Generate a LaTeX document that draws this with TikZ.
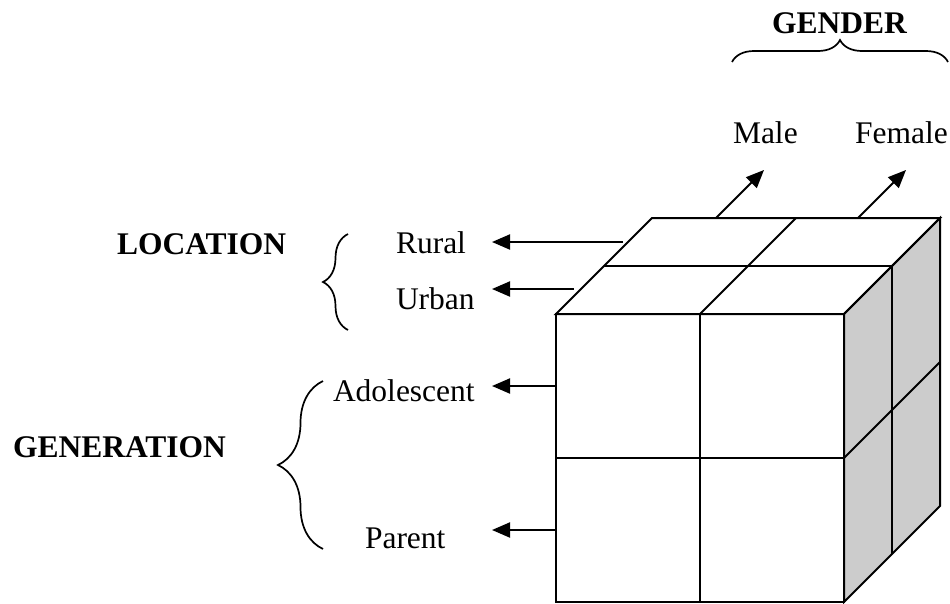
\documentclass[tikz,border=0pt]{standalone}
\usepackage{fontspec}
\setmainfont{Liberation Serif}
\usetikzlibrary{arrows.meta,decorations.pathreplacing}
\begin{document}
\begin{tikzpicture}[x=1pt,y=-1pt,
  every node/.style={inner sep=0pt,outer sep=0pt,anchor=base west,font=\fontsize{31.5}{36}\selectfont},
  boldlab/.style={font=\fontsize{31.5}{36}\selectfont\bfseries},
  cubeline/.style={line width=2pt,line join=miter},
  arr/.style={line width=2pt,-{Triangle[length=18pt,width=15pt]}},
  brc/.style={line width=1.7pt,decorate,decoration={brace,amplitude=#1}}]
\useasboundingbox (0,0) rectangle (950,603);
% cube: right face
\filldraw[cubeline,fill={rgb,255:red,204;green,204;blue,204}] (844,314) -- (940,218) -- (940,506) -- (844,602) -- cycle;
\draw[cubeline] (892,266) -- (892,554);
\draw[cubeline] (844,458) -- (940,362);
% top face
\draw[cubeline] (556,314) -- (652,218) -- (940,218) -- (844,314) -- cycle;
\draw[cubeline] (604,266) -- (892,266);
\draw[cubeline] (700,314) -- (796,218);
% front face
\draw[cubeline] (556,314) rectangle (844,601.5);
\draw[cubeline] (700,314) -- (700,601.5);
\draw[cubeline] (556,458) -- (844,458);
% labels
\node[boldlab] (gender) at (772,33) {GENDER};
\node (male) at (733,143) {Male};
\node (female) at (855,143) {Female};
\node[boldlab] (location) at (117,254) {LOCATION};
\node (rural) at (396,253) {Rural};
\node (urban) at (396,309) {Urban};
\node[boldlab] (generation) at (13,457) {GENERATION};
\node (adol) at (333,401) {Adolescent};
\node (parent) at (365,548) {Parent};
% connector endpoints
\coordinate (mS) at (716,218); \coordinate (mT) at (764,170);
\coordinate (fS) at (858,218); \coordinate (fT) at (906,170);
\coordinate (rS) at (623,242); \coordinate (rT) at (492,242);
\coordinate (uS) at (574,289); \coordinate (uT) at (492,289);
\coordinate (aS) at (556,386); \coordinate (aT) at (492,386);
\coordinate (pS) at (556,530); \coordinate (pT) at (492,530);
\draw[arr] (mS) -- (mT);
\draw[arr] (fS) -- (fT);
\draw[arr] (rS) -- (rT);
\draw[arr] (uS) -- (uT);
\draw[arr] (aS) -- (aT);
\draw[arr] (pS) -- (pT);
% braces
\coordinate (gb1) at (732,62); \coordinate (gb2) at (948,62);
\coordinate (lb1) at (348,330); \coordinate (lb2) at (348,234);
\coordinate (eb1) at (323,549); \coordinate (eb2) at (323,381);
\draw[brc=22pt] (gb1) -- (gb2);
\draw[brc=25pt] (lb1) -- (lb2);
\draw[brc=45pt] (eb1) -- (eb2);
\end{tikzpicture}
\end{document}
